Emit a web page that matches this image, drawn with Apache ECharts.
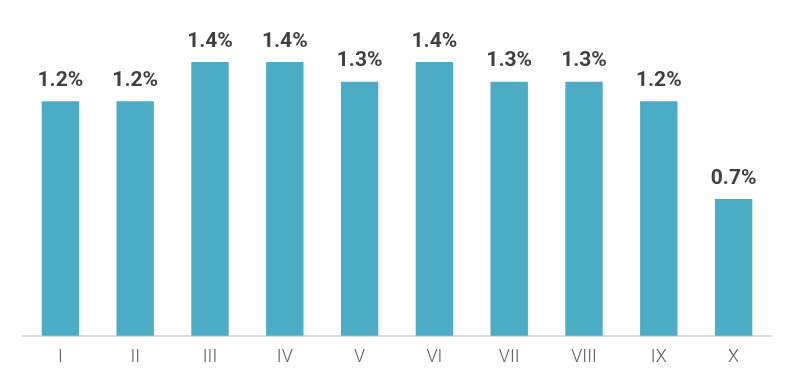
<!DOCTYPE html>
<html><head><meta charset="utf-8">
<script src="https://cdn.jsdelivr.net/npm/echarts@6/dist/echarts.min.js"></script>
<style>html,body{margin:0;padding:0;background:#fff}#c{width:793px;height:381px}</style>
</head><body><div id="c"></div>
<script>
var categories = ['I','II','III','IV','V','VI','VII','VIII','IX','X'];
var values = [1.2,1.2,1.4,1.4,1.3,1.4,1.3,1.3,1.2,0.7];
var chart = echarts.init(document.getElementById('c'), null, {renderer:'canvas'});
chart.setOption({
  animation:false,
  grid:{left:23,right:22,top:23,bottom:45.3},
  xAxis:{type:'category',data:categories,
    axisLine:{lineStyle:{color:'#d9d9d9',width:2}},
    axisTick:{show:false},
    axisLabel:{color:'#595959',fontSize:18,fontFamily:'Roboto',fontWeight:300,margin:13}},
  yAxis:{type:'value',min:0,max:1.6,show:false,splitLine:{show:false}},
  series:[{type:'bar',data:values,barWidth:'50%',
    itemStyle:{color:'#4BACC6'},
    label:{show:true,position:'top',distance:10,color:'#404040',fontSize:21,fontWeight:'bold',fontFamily:'Roboto',
      formatter:function(p){return p.value.toFixed(1)+'%';}}}]
});
</script></body></html>
